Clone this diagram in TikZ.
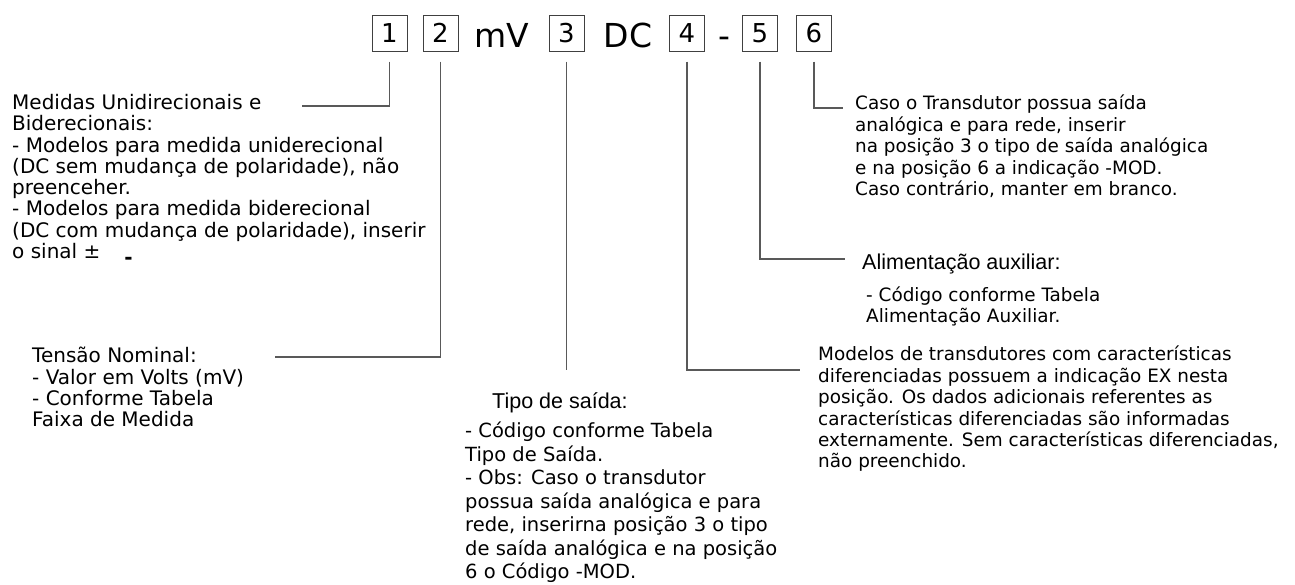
\documentclass[tikz,border=0pt]{standalone}
\usepackage{fontspec}
\setmainfont{DejaVu Sans}
\newfontfamily\arialfont{Liberation Sans}

\begin{document}
\begin{tikzpicture}[x=1pt, y=-1pt, every node/.style={inner sep=0pt}]
	\tikzstyle{digit} = [rectangle, draw=black!75, line width=1pt, minimum width=35pt, minimum height=36pt, font=\fontsize{26}{26}\selectfont]
	\tikzstyle{code} = [anchor=base, font=\fontsize{33}{33}\selectfont]
	\tikzstyle{note} = [anchor=north west, align=left, font=\fontsize{20}{21.3}\selectfont]
	\tikzstyle{small} = [note, font=\fontsize{18.4}{21.4}\selectfont]
	\tikzstyle{arial} = [note, font=\arialfont\fontsize{21.5}{21.5}\selectfont]
	\tikzstyle{line} = [draw, black!65, line width=1.2pt]
	\useasboundingbox (0,0) rectangle (1295,584);
	% code row
	\node [digit] (d1) at (389.5,33) {1};
	\node [digit] (d2) at (440.5,33) {2};
	\node [code] (mv) at (502,47) {mV};
	\node [digit] (d3) at (566.5,33) {3};
	\node [code] (dc) at (628,47) {DC};
	\node [digit] (d4) at (687,33) {4};
	\node [code] (dash) at (724,47) {-};
	\node [digit] (d5) at (760,33) {5};
	\node [digit] (d6) at (814,33) {6};
	% left column
	\node [note] (medidas) at (12,94) {Medidas Unidirecionais e\\Biderecionais:\\- Modelos para medida uniderecional\\(DC sem mudança de polaridade), não\\preenceher.\\- Modelos para medida biderecional\\(DC com mudança de polaridade), inserir\\o sinal ±\hspace{24pt}\raisebox{-6pt}{\textbf{-}}};
	\node [note] (tensao) at (32,347) {Tensão Nominal:\\- Valor em Volts (mV)\\- Conforme Tabela\\Faixa de Medida};
	% middle
	\node [arial] (tipo) at (492,392) {Tipo de saída:};
	\node [note, font=\fontsize{19.5}{23.5}\selectfont] (tipotxt) at (465,422) {- Código conforme Tabela\\Tipo de Saída.\\- Obs: Caso o transdutor\\possua saída analógica e para\\rede, inserirna posição 3 o tipo\\de saída analógica e na posição\\6 o Código -MOD.};
	% right column
	\node [small] (caso) at (855,95) {Caso o Transdutor possua saída\\analógica e para rede, inserir\\na posição 3 o tipo de saída analógica\\e na posição 6 a indicação -MOD.\\Caso contrário, manter em branco.};
	\node [arial] (alim) at (862,254) {Alimentação auxiliar:};
	\node [small, font=\fontsize{18.4}{21}\selectfont] (alimtxt) at (866,287) {- Código conforme Tabela\\Alimentação Auxiliar.};
	\node [small] (modelos) at (818,346) {Modelos de transdutores com características\\diferenciadas possuem a indicação EX nesta\\posição. Os dados adicionais referentes as\\características diferenciadas são informadas\\externamente. Sem características diferenciadas,\\não preenchido.};
	% leader ends
	\coordinate (e1) at (302,106);
	\coordinate (e2) at (275,357);
	\coordinate (e3) at (566.5,370);
	\coordinate (e4) at (800,370);
	\coordinate (e5) at (845,259);
	\coordinate (e6) at (843,108);
	\tikzstyle{every path}=[line]
	\path ([yshift=-10pt]d1.south) |- (e1);
	\path ([yshift=-10pt]d2.south) |- (e2);
	\path ([yshift=-10pt]d3.south) -- (e3);
	\path ([yshift=-10pt]d4.south) |- (e4);
	\path ([yshift=-10pt]d5.south) |- (e5);
	\path ([yshift=-10pt]d6.south) |- (e6);
\end{tikzpicture}
\end{document}
